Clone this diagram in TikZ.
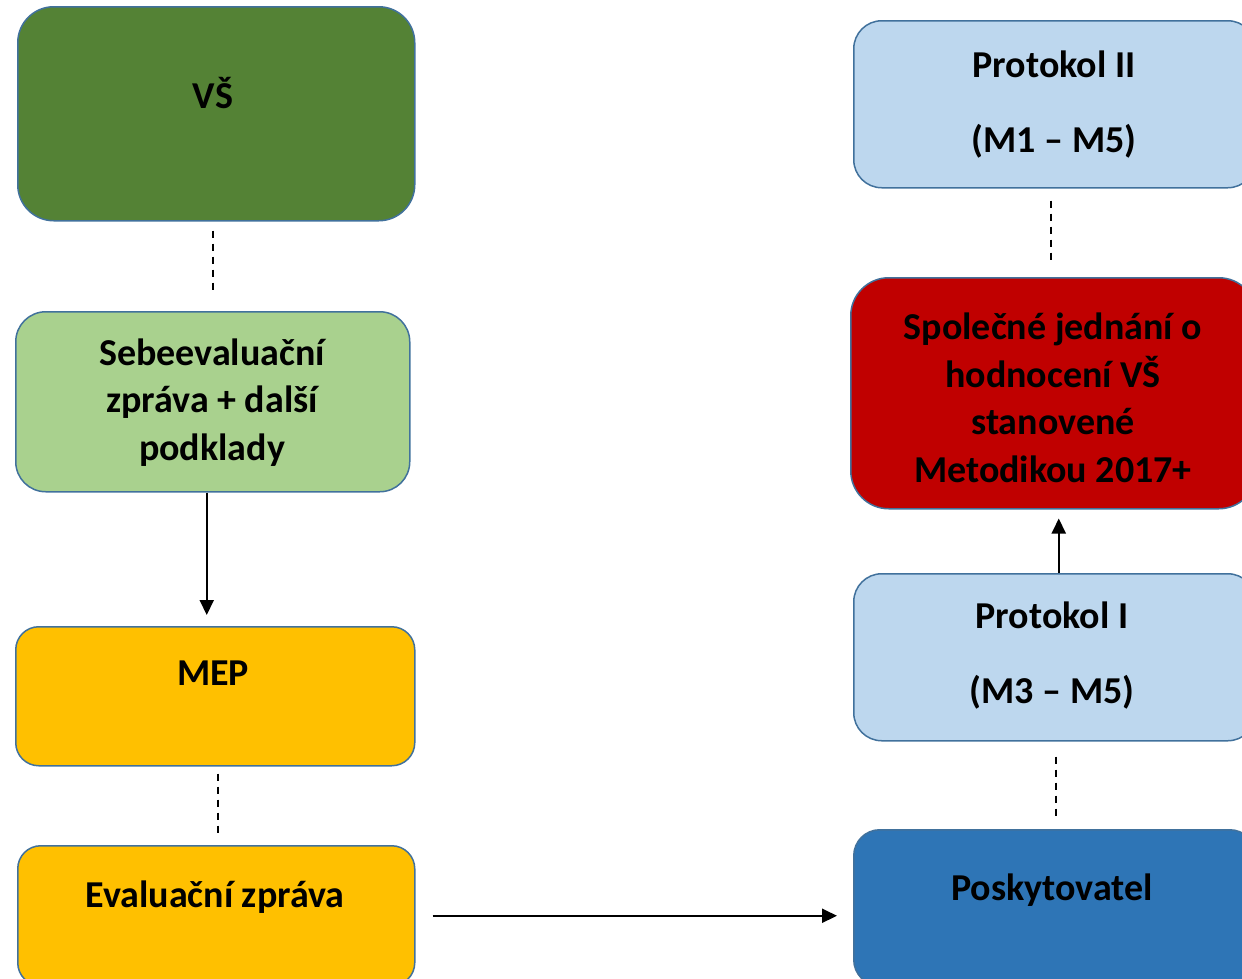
\documentclass[tikz,border=0pt]{standalone}
\usepackage{fontspec}
\setmainfont{Carlito}
\usepackage{tikz}
\usetikzlibrary{positioning}
\usetikzlibrary{arrows.meta}

\definecolor{VsGreen}{HTML}{548235}
\definecolor{SebeGreen}{HTML}{A9D18E}
\definecolor{MepGold}{HTML}{FFC000}
\definecolor{ProtBlue}{HTML}{BDD7EE}
\definecolor{JednRed}{HTML}{C00000}
\definecolor{PoskBlue}{HTML}{2E75B6}
\definecolor{BoxEdge}{HTML}{41719C}

\tikzset{
  blok/.style={draw=BoxEdge,line width=1.5pt,anchor=north west,inner sep=0pt},
  popis/.style={anchor=base,align=center,inner sep=0pt,
    font=\bfseries\fontsize{38}{47.5}\selectfont},
  spoj/.style={line width=2pt,->},
  carky/.style={line width=2pt,dash pattern=on 7pt off 6pt},
}

\begin{document}
\begin{tikzpicture}[x=1pt,y=-1pt,>={Triangle[length=15pt,width=14pt]}]
\clip (0,0) rectangle (1242,978);
% levy sloupec
\node[blok,fill=VsGreen,rounded corners=36pt,minimum width=397pt,minimum height=214pt] (vs) at (17,6) {};
\node[blok,fill=SebeGreen,rounded corners=30pt,minimum width=394pt,minimum height=180pt] (sebe) at (15,311) {};
\node[blok,fill=MepGold,rounded corners=23pt,minimum width=399pt,minimum height=139pt] (mep) at (15,626) {};
\node[blok,fill=MepGold,rounded corners=23pt,minimum width=397pt,minimum height=140pt] (eval) at (17,845) {};
% pravy sloupec
\node[blok,fill=ProtBlue,rounded corners=28pt,minimum width=402pt,minimum height=167pt] (prot2) at (853,20) {};
\node[blok,fill=JednRed,rounded corners=38pt,minimum width=406pt,minimum height=231pt] (jedn) at (850,277) {};
\node[blok,fill=ProtBlue,rounded corners=28pt,minimum width=402pt,minimum height=167pt] (prot1) at (853,573) {};
\node[blok,fill=PoskBlue,rounded corners=26pt,minimum width=402pt,minimum height=156pt] (posk) at (853,829) {};
% texty (base = posledni radek)
\node[popis] (vs-t) at (213,108) {VŠ};
\node[popis] (sebe-t) at (212,460) {Sebeevaluační\\zpráva + další\\podklady};
\node[popis] (mep-t) at (213,685) {MEP};
\node[popis] (eval-t) at (215,907) {Evaluační zpráva};
\node[popis] (prot2-t) at (1054,152) {Protokol II\\[27.5pt](M1 – M5)};
\node[popis] (jedn-t) at (1053,482) {Společné jednání o\\hodnocení VŠ\\stanovené\\Metodikou 2017+};
\node[popis] (prot1-t) at (1052,703) {Protokol I\\[27.5pt](M3 – M5)};
\node[popis] (posk-t) at (1052,900) {Poskytovatel};
% spojnice
\draw[carky,shorten <=9pt,shorten >=18pt] ([xshift=-3.5pt]vs.south) -- ([xshift=-3.5pt]vs.south |- sebe.north);
\draw[spoj,shorten >=11pt] ([xshift=-6pt]sebe.south) -- ([xshift=-6pt]sebe.south |- mep.north);
\draw[carky,shorten <=7pt,shorten >=9pt] ([xshift=2.5pt]mep.south) -- ([xshift=2.5pt]mep.south |- eval.north);
\draw[spoj,shorten <=17pt,shorten >=16pt] (eval.east) -- (eval.east -| posk.west);
\draw[carky,shorten <=15pt,shorten >=11pt] ([xshift=1pt]prot1.south) -- ([xshift=1pt]prot1.south |- posk.north);
\draw[spoj,shorten >=9pt] ([xshift=4pt]prot1.north) -- ([xshift=4pt]prot1.north |- jedn.south);
\draw[carky,shorten <=12pt,shorten >=14pt] ([xshift=-4pt]prot2.south) -- ([xshift=-4pt]prot2.south |- jedn.north);
\end{tikzpicture}
\end{document}
